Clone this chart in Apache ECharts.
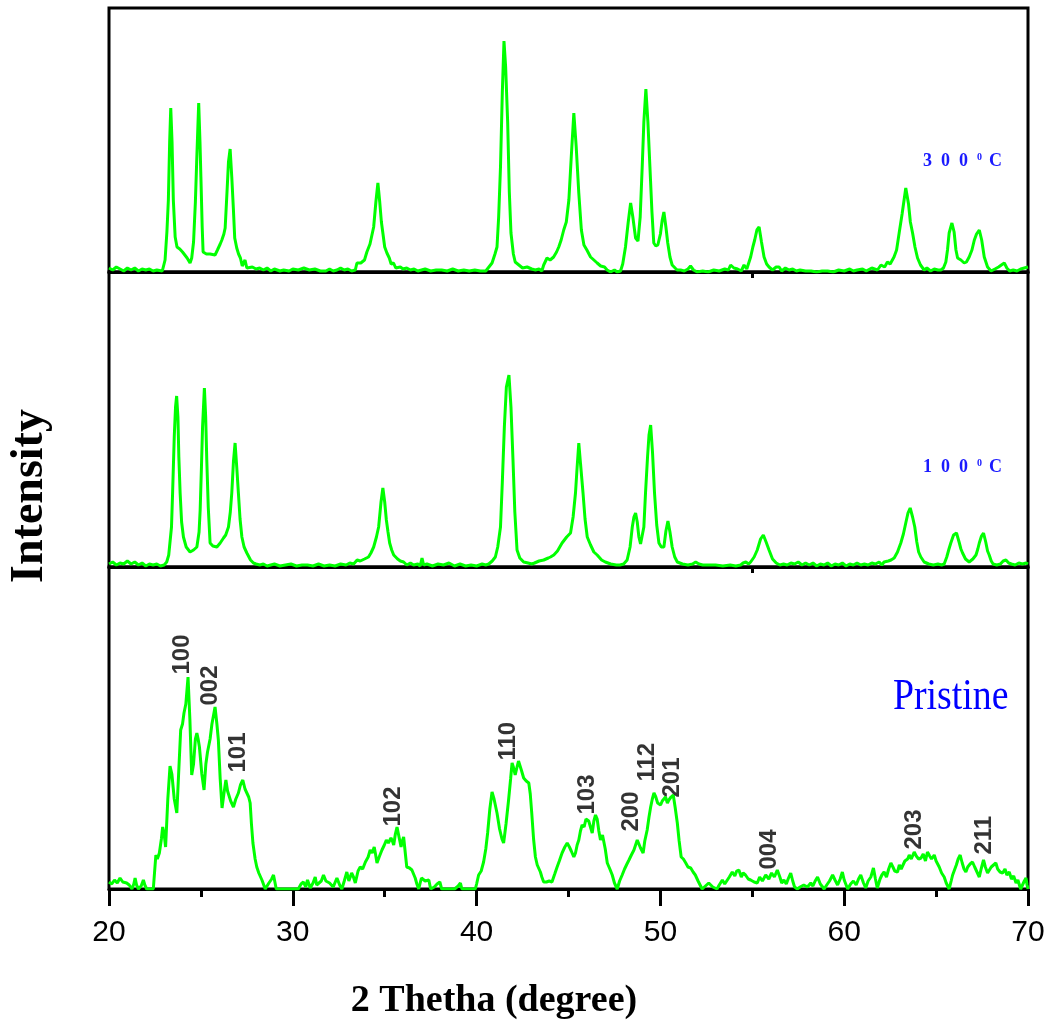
<!DOCTYPE html>
<html>
<head>
<meta charset="utf-8">
<title>XRD</title>
<script src="https://cdn.jsdelivr.net/npm/echarts@6/dist/echarts.min.js"></script>
<style>
  html, body { margin: 0; padding: 0; background: #fff; }
  #chart { width: 1053px; height: 1027px; }
</style>
</head>
<body>
<div id="chart"></div>
<script>
// 2theta (deg) vs intensity (a.u.)
const xrd300 = [
  [20.0,4],[20.2,2],[20.4,5],[20.6,3],[20.8,1],[21.0,4],[21.2,2],[21.4,4],[21.6,1],[21.8,3],[22.0,2],[22.2,3],[22.4,1],[22.6,2],[22.9,1],
  [23.05,12],[23.15,40],[23.23,72],[23.3,130],[23.36,164],[23.43,130],[23.5,72],[23.6,35],[23.7,25],[23.85,23],[24.0,20],[24.1,19],[24.25,14],[24.41,9],
  [24.5,14],[24.6,30],[24.7,70],[24.77,110],[24.88,169],[24.95,130],[25.0,95],[25.07,45],[25.12,20],[25.3,18],[25.5,18],[25.6,20],[25.77,17],[25.9,22],
  [26.05,28],[26.14,32],[26.25,38],[26.32,44],[26.42,80],[26.5,110],[26.59,123],[26.68,95],[26.77,62],[26.84,34],[26.95,24],[27.05,18],[27.15,14],
  [27.25,6],[27.3,4],[27.4,12],[27.5,4],[27.6,2],[27.8,5],[28.0,3],[28.2,4],[28.4,2],[28.6,4],[28.8,1],[29.0,3],[29.3,1],[29.5,2],[29.8,1],[30.0,3],
  [30.3,2],[30.6,4],[30.9,2],[31.2,3],[31.5,1],[31.8,1],[32.0,3],[32.2,1],[32.4,2],[32.6,4],[32.8,2],[33.0,3],[33.2,1],[33.4,2],[33.49,9],[33.7,9],
  [33.9,12],[34.03,20],[34.2,28],[34.4,45],[34.52,70],[34.63,89],[34.73,70],[34.82,50],[34.9,39],[35.0,25],[35.12,19],[35.25,14],[35.35,8],[35.48,9],
  [35.6,4],[35.7,6],[35.85,5],[36.0,3],[36.2,4],[36.4,2],[36.6,3],[36.8,1],[37.0,2],[37.2,3],[37.5,1],[37.8,2],[38.1,2],[38.4,1],[38.7,3],[39.0,1],
  [39.3,2],[39.6,1],[39.9,2],[40.2,1],[40.5,1],[40.57,3],[40.84,9],[41.0,18],[41.11,25],[41.2,55],[41.3,105],[41.4,180],[41.49,231],[41.58,205],
  [41.69,150],[41.78,80],[41.87,39],[42.0,18],[42.1,10],[42.3,7],[42.5,4],[42.75,5],[43.0,3],[43.2,2],[43.4,3],[43.55,1],[43.65,7],[43.83,14],
  [44.0,12],[44.19,15],[44.35,20],[44.47,25],[44.6,32],[44.74,42],[44.88,50],[45.02,72],[45.15,115],[45.29,159],[45.42,125],[45.56,79],[45.7,42],
  [45.84,27],[46.0,22],[46.2,15],[46.38,12],[46.56,9],[46.75,6],[46.96,5],[47.1,2],[47.29,0],[47.5,2],[47.65,0],[47.83,1],[47.95,8],[48.1,25],
  [48.25,50],[48.38,69],[48.5,55],[48.65,34],[48.78,31],[48.9,55],[49.01,105],[49.1,150],[49.21,183],[49.32,150],[49.43,105],[49.54,60],[49.64,29],
  [49.75,26],[49.86,27],[50.0,38],[50.1,52],[50.19,60],[50.3,45],[50.4,29],[50.52,15],[50.64,7],[50.8,4],[50.91,2],[51.1,2],[51.3,1],[51.5,3],
  [51.64,6],[51.8,2],[52.0,0],[52.3,1],[52.6,0],[52.9,2],[53.2,1],[53.5,3],[53.7,2],[53.82,7],[54.0,4],[54.2,3],[54.4,1],[54.55,7],[54.7,3],
  [54.91,15],[55.03,25],[55.13,32],[55.25,42],[55.37,45],[55.5,30],[55.64,15],[55.78,8],[55.91,5],[56.1,2],[56.3,5],[56.46,5],[56.6,1],[56.8,4],
  [57.0,2],[57.2,3],[57.4,1],[57.6,2],[57.9,1],[58.2,1],[58.5,0],[58.8,1],[59.1,1],[59.4,0],[59.7,2],[60.0,1],[60.3,3],[60.5,1],[60.7,2],[61.0,3],
  [61.2,1],[61.5,4],[61.81,2],[62.0,7],[62.2,5],[62.35,10],[62.5,8],[62.71,15],[62.85,22],[62.99,39],[63.15,58],[63.35,84],[63.5,68],[63.6,50],
  [63.72,39],[63.85,25],[63.99,14],[64.15,7],[64.35,2],[64.5,4],[64.7,1],[64.9,3],[65.1,2],[65.26,2],[65.4,4],[65.53,10],[65.62,22],[65.71,39],
  [65.86,49],[65.98,40],[66.08,22],[66.17,14],[66.35,12],[66.53,9],[66.65,10],[66.8,15],[66.95,22],[67.08,32],[67.2,38],[67.35,42],[67.48,32],
  [67.62,15],[67.8,5],[67.99,1],[68.2,3],[68.4,5],[68.55,7],[68.71,9],[68.85,4],[69.0,1],[69.2,2],[69.4,1],[69.6,3],[69.8,4],[70.0,5]
];

const xrd100 = [
  [20.0,3],[20.2,5],[20.4,2],[20.6,4],[20.8,3],[21.0,6],[21.2,3],[21.4,5],[21.6,2],[21.8,4],[22.0,1],[22.2,3],[22.4,2],[22.6,3],[22.8,1],[23.0,2],
  [23.14,5],[23.25,12],[23.32,14],[23.4,40],[23.46,74],[23.55,130],[23.62,160],[23.68,171],[23.75,150],[23.8,110],[23.87,74],[23.95,45],[24.05,30],
  [24.2,20],[24.41,15],[24.6,17],[24.78,20],[24.9,35],[24.96,57],[25.03,100],[25.09,140],[25.19,179],[25.26,150],[25.32,107],[25.4,60],[25.5,24],
  [25.65,21],[25.87,20],[26.05,24],[26.23,29],[26.35,32],[26.5,40],[26.6,55],[26.68,74],[26.77,105],[26.86,124],[26.95,100],[27.04,74],[27.13,48],
  [27.23,30],[27.35,20],[27.5,14],[27.7,7],[27.86,4],[28.0,3],[28.2,2],[28.4,3],[28.6,1],[28.8,2],[29.0,3],[29.3,1],[29.6,2],[29.9,3],[30.2,1],
  [30.5,2],[30.8,2],[31.1,1],[31.4,3],[31.7,1],[32.0,2],[32.3,1],[32.6,3],[32.9,2],[33.1,4],[33.31,3],[33.5,7],[33.67,6],[33.9,8],[34.12,10],
  [34.25,14],[34.4,20],[34.55,30],[34.67,40],[34.8,65],[34.9,79],[35.0,65],[35.09,47],[35.18,35],[35.27,24],[35.38,17],[35.49,12],[35.7,8],
  [35.85,6],[36.03,5],[36.2,2],[36.4,4],[36.57,2],[36.8,3],[36.93,1],[37.03,9],[37.12,2],[37.3,3],[37.6,1],[37.9,3],[38.2,2],[38.5,4],[38.8,1],
  [39.1,3],[39.4,1],[39.7,2],[40.0,1],[40.3,3],[40.5,2],[40.66,3],[40.85,6],[41.02,10],[41.15,20],[41.3,40],[41.4,85],[41.51,140],[41.62,180],
  [41.76,192],[41.87,160],[41.98,107],[42.08,55],[42.2,17],[42.35,9],[42.56,5],[42.8,4],[43.0,3],[43.15,4],[43.4,6],[43.65,7],[43.9,9],[44.02,10],
  [44.2,12],[44.4,16],[44.65,24],[44.9,30],[45.11,34],[45.25,50],[45.38,74],[45.47,100],[45.56,124],[45.66,102],[45.79,74],[45.9,48],[46.02,30],
  [46.2,22],[46.38,15],[46.56,12],[46.8,7],[47.0,5],[47.3,3],[47.6,2],[47.8,2],[48.0,3],[48.19,7],[48.35,20],[48.47,40],[48.56,50],[48.65,54],
  [48.74,45],[48.83,30],[48.92,23],[49.01,22],[49.1,40],[49.19,74],[49.3,110],[49.38,132],[49.47,142],[49.57,115],[49.68,74],[49.8,42],[49.92,24],
  [50.05,20],[50.19,20],[50.3,36],[50.41,46],[50.52,35],[50.64,20],[50.78,10],[50.92,5],[51.2,3],[51.5,2],[51.75,3],[51.92,5],[52.1,3],[52.3,2],
  [52.6,2],[53.0,2],[53.4,1],[53.8,2],[54.1,1],[54.37,2],[54.5,4],[54.65,5],[54.8,3],[54.91,5],[55.1,10],[55.27,17],[55.45,28],[55.6,32],[55.75,25],
  [55.91,17],[56.1,8],[56.3,4],[56.5,2],[56.7,3],[56.9,2],[57.1,4],[57.3,3],[57.5,5],[57.7,2],[57.9,4],[58.1,2],[58.3,4],[58.5,1],[58.7,3],[58.9,2],
  [59.1,4],[59.3,1],[59.5,3],[59.7,2],[59.9,4],[60.1,1],[60.3,3],[60.5,2],[60.7,4],[60.9,2],[61.1,3],[61.3,2],[61.5,4],[61.7,3],[61.9,5],[62.05,2],
  [62.17,5],[62.4,6],[62.55,7],[62.72,9],[62.9,15],[63.08,24],[63.22,33],[63.35,44],[63.47,54],[63.59,59],[63.72,50],[63.84,40],[63.95,25],
  [64.05,15],[64.17,10],[64.35,5],[64.6,3],[64.85,2],[65.1,3],[65.3,2],[65.44,3],[65.58,10],[65.7,18],[65.8,24],[65.95,32],[66.11,34],[66.25,25],
  [66.35,18],[66.44,14],[66.6,8],[66.8,5],[67.0,8],[67.17,12],[67.27,18],[67.35,24],[67.47,31],[67.58,34],[67.7,25],[67.8,16],[67.89,12],[68.0,6],
  [68.1,3],[68.3,2],[68.5,3],[68.65,6],[68.8,7],[68.95,4],[69.1,3],[69.3,2],[69.5,4],[69.7,3],[69.9,4],[70.0,3]
];

const xrdPristine = [
  [20.0,7],[20.15,5],[20.3,9],[20.45,6],[20.6,11],[20.75,7],[20.85,8],[20.96,6],[21.1,4],[21.25,0],[21.35,5],[21.42,11],[21.5,4],[21.6,0],[21.75,3],
  [21.87,9],[21.95,4],[22.05,0],[22.2,0],[22.41,0],[22.55,34],[22.63,30],[22.74,36],[22.85,50],[22.92,62],[23.0,55],[23.08,42],[23.2,90],[23.32,123],
  [23.42,115],[23.55,90],[23.69,76],[23.8,120],[23.9,159],[24.0,165],[24.08,176],[24.18,185],[24.3,212],[24.4,170],[24.5,114],[24.6,125],[24.7,150],
  [24.78,156],[24.85,150],[24.92,142],[25.05,115],[25.17,99],[25.27,125],[25.36,137],[25.5,150],[25.6,165],[25.77,182],[25.87,165],[25.95,149],
  [26.05,110],[26.15,81],[26.25,95],[26.36,109],[26.45,98],[26.5,96],[26.62,88],[26.77,82],[26.9,90],[27.04,96],[27.15,104],[27.28,109],[27.4,100],
  [27.5,96],[27.6,92],[27.68,86],[27.75,65],[27.83,46],[27.95,30],[28.04,22],[28.15,16],[28.32,9],[28.5,0],[28.7,6],[28.85,10],[28.95,14],[29.1,0],
  [29.4,0],[29.7,0],[30.0,0],[30.3,0],[30.45,5],[30.58,7],[30.7,2],[30.8,9],[30.95,1],[31.1,6],[31.22,12],[31.3,4],[31.4,2],[31.55,8],[31.67,14],
  [31.8,8],[32.0,6],[32.2,2],[32.4,11],[32.55,4],[32.67,0],[32.8,8],[32.94,17],[33.05,8],[33.2,16],[33.3,12],[33.4,6],[33.55,18],[33.67,22],
  [33.8,20],[33.95,27],[34.1,32],[34.21,39],[34.32,36],[34.43,42],[34.5,35],[34.58,26],[34.7,32],[34.85,39],[34.98,44],[35.09,49],[35.2,46],
  [35.34,51],[35.42,48],[35.49,44],[35.58,55],[35.67,62],[35.78,52],[35.89,42],[35.96,48],[36.03,52],[36.12,36],[36.2,22],[36.35,21],[36.48,19],
  [36.57,15],[36.66,11],[36.75,5],[36.85,0],[36.93,6],[37.0,11],[37.1,10],[37.2,8],[37.3,9],[37.4,9],[37.5,0],[37.7,2],[37.85,5],[38.0,7],[38.1,0],
  [38.4,0],[38.8,0],[39.0,3],[39.12,6],[39.2,0],[39.5,0],[39.93,0],[40.0,5],[40.11,14],[40.25,18],[40.38,27],[40.5,40],[40.6,56],[40.72,80],
  [40.84,97],[40.95,90],[41.11,76],[41.25,60],[41.38,50],[41.47,46],[41.6,65],[41.74,89],[41.85,110],[41.93,126],[42.0,122],[42.1,114],[42.2,122],
  [42.28,128],[42.35,130],[42.45,118],[42.56,111],[42.7,108],[42.84,106],[42.92,95],[43.0,76],[43.1,50],[43.2,32],[43.3,24],[43.47,17],[43.55,12],
  [43.65,7],[43.8,7],[43.95,8],[44.1,7],[44.25,15],[44.38,22],[44.5,28],[44.65,36],[44.8,42],[44.93,46],[45.05,42],[45.15,38],[45.29,32],[45.38,36],
  [45.47,44],[45.56,49],[45.65,58],[45.74,64],[45.85,62],[45.95,70],[46.02,72],[46.1,68],[46.2,66],[46.29,56],[46.38,68],[46.47,74],[46.56,70],
  [46.65,58],[46.74,49],[46.85,54],[46.92,56],[47.0,40],[47.11,26],[47.25,20],[47.38,14],[47.5,6],[47.65,0],[47.78,8],[47.92,14],[48.05,20],
  [48.18,25],[48.29,29],[48.42,34],[48.56,39],[48.65,44],[48.74,49],[48.83,45],[48.92,41],[49.06,36],[49.15,48],[49.28,59],[49.38,72],[49.47,82],
  [49.56,90],[49.65,96],[49.75,92],[49.85,86],[50.01,84],[50.1,88],[50.2,90],[50.28,92],[50.38,86],[50.46,89],[50.58,92],[50.7,94],[50.8,82],
  [50.92,66],[51.02,48],[51.13,32],[51.25,30],[51.38,26],[51.5,22],[51.65,21],[51.78,17],[51.9,14],[52.05,8],[52.27,0],[52.45,3],[52.63,6],
  [52.85,2],[53.08,0],[53.2,4],[53.37,9],[53.5,5],[53.6,7],[53.75,12],[53.91,17],[54.05,13],[54.15,18],[54.27,19],[54.4,12],[54.5,16],[54.63,14],
  [54.78,10],[54.91,9],[55.1,7],[55.27,6],[55.4,12],[55.55,8],[55.73,14],[55.9,10],[56.05,16],[56.2,12],[56.36,19],[56.5,12],[56.6,6],[56.72,9],
  [56.85,5],[56.95,10],[57.09,16],[57.2,8],[57.3,2],[57.45,0],[57.6,2],[57.8,4],[58.0,2],[58.18,6],[58.3,3],[58.42,8],[58.55,12],[58.7,5],
  [58.91,0],[59.05,4],[59.2,8],[59.37,14],[59.5,9],[59.64,4],[59.78,10],[59.9,17],[60.0,9],[60.19,0],[60.35,5],[60.5,8],[60.65,4],[60.78,10],
  [60.9,14],[61.05,6],[61.17,1],[61.3,8],[61.45,12],[61.59,21],[61.7,10],[61.8,1],[61.95,10],[62.05,14],[62.17,17],[62.3,12],[62.42,20],[62.54,26],
  [62.65,22],[62.75,18],[62.9,17],[63.0,24],[63.1,20],[63.17,22],[63.3,28],[63.45,30],[63.54,34],[63.65,30],[63.81,37],[63.92,33],[64.05,30],
  [64.18,31],[64.3,35],[64.42,28],[64.53,37],[64.65,33],[64.75,30],[64.9,34],[65.0,28],[65.1,26],[65.17,22],[65.3,16],[65.44,12],[65.55,6],
  [65.71,0],[65.82,8],[65.9,14],[66.0,19],[66.1,24],[66.2,30],[66.31,34],[66.42,26],[66.52,20],[66.62,17],[66.72,22],[66.85,25],[66.98,27],
  [67.1,22],[67.2,18],[67.35,12],[67.45,20],[67.58,29],[67.68,22],[67.8,16],[67.9,18],[68.0,22],[68.1,20],[68.25,26],[68.35,20],[68.48,17],
  [68.62,16],[68.75,20],[68.85,14],[68.98,17],[69.1,10],[69.22,13],[69.35,6],[69.45,9],[69.6,0],[69.7,4],[69.8,8],[69.89,11],[69.95,4],[70.0,0]
];

// hkl reflections of the pristine pattern: label and where its text starts
const hklNames = ['100', '002', '101', '102', '110', '103', '200', '112', '201', '004', '203', '211'];
const hklAngle = [24.03, 25.53, 27.08, 35.52, 41.73, 46.06, 48.43, 49.33, 50.69, 55.95, 63.84, 67.63];
const hklHeight = [214, 183, 116, 62, 128, 74, 57, 107, 91, 19, 39, 34];

const xTicks = [20, 30, 40, 50, 60, 70];
const panelMax = [264, 295, 322];

const GREEN = '#00ff00';
const BLUE = '#1a1aff';
const chart = echarts.init(document.getElementById('chart'));

const gridBox = { left: 109, right: 25, show: true, borderColor: '#000', borderWidth: 3, backgroundColor: 'transparent', outerBoundsMode: 'none' };

function innerX(idx) {
  return {
    type: 'value', gridIndex: idx, min: xTicks[0], max: xTicks[xTicks.length - 1],
    axisLine: { show: true, lineStyle: { color: '#000', width: 3 } },
    axisTick: { show: true, customValues: [55], length: 6, lineStyle: { color: '#000', width: 3 } },
    axisLabel: { show: false },
    splitLine: { show: false }
  };
}

function lineSeries(name, idx, data) {
  return {
    name: name, type: 'line', xAxisIndex: idx, yAxisIndex: idx, data: data,
    showSymbol: false, symbol: 'none', smooth: false,
    lineStyle: { color: GREEN, width: 3 }, z: 3
  };
}

// temperature tag: spaced bold digits plus a raised small "0" for degrees
function tempTag(text, y) {
  return {
    type: 'text', x: 923, y: y,
    style: {
      text: text, fill: BLUE, verticalAlign: 'middle',
      font: 'bold 18px "Liberation Serif", "Times New Roman", serif',
      rich: {
        d: { width: 18, fontSize: 18, fontWeight: 'bold', fontFamily: 'Liberation Serif', fill: BLUE },
        s: { width: 12, fontSize: 10, fontWeight: 'bold', fontFamily: 'Liberation Serif', fill: BLUE, verticalAlign: 'top' },
        c: { fontSize: 18, fontWeight: 'bold', fontFamily: 'Liberation Serif', fill: BLUE }
      }
    }
  };
}

chart.setOption({
  animation: false,
  backgroundColor: '#fff',
  grid: [
    Object.assign({ top: 8, height: 264 }, gridBox),
    Object.assign({ top: 272, height: 295 }, gridBox),
    Object.assign({ top: 567, height: 322 }, gridBox)
  ],
  xAxis: [
    innerX(0),
    innerX(1),
    {
      type: 'value', gridIndex: 2, min: 20, max: 70, interval: 10,
      axisLine: { show: true, lineStyle: { color: '#000', width: 3 } },
      axisTick: { show: true, length: 17, lineStyle: { color: '#000', width: 3 } },
      minorTick: { show: true, splitNumber: 2, length: 8, lineStyle: { color: '#000', width: 3 } },
      axisLabel: { show: true, color: '#000', fontSize: 30, fontFamily: 'Liberation Sans, Arial, sans-serif', margin: 29 },
      splitLine: { show: false }
    }
  ],
  yAxis: panelMax.map(function (m, i) {
    return { type: 'value', gridIndex: i, min: 0, max: m, show: false, splitLine: { show: false } };
  }),
  series: [
    lineSeries('300 C', 0, xrd300),
    lineSeries('100 C', 1, xrd100),
    lineSeries('Pristine', 2, xrdPristine),
    {
      type: 'scatter', xAxisIndex: 2, yAxisIndex: 2,
      symbol: 'circle', symbolSize: 1, itemStyle: { color: 'rgba(0,0,0,0)' },
      data: hklNames.map(function (n, i) { return { name: n, value: [hklAngle[i], hklHeight[i]] }; }),
      label: {
        show: true, formatter: '{b}', position: [0, 0], rotate: 90,
        align: 'left', verticalAlign: 'middle',
        color: '#000', textBorderWidth: 0, fontSize: 24, fontWeight: 'bold', fontFamily: 'Liberation Sans, Arial, sans-serif'
      },
      z: 4
    }
  ],
  graphic: [
    tempTag('{d|3}{d|0}{d|0}{s|0}{c|C}', 161),
    tempTag('{d|1}{d|0}{d|0}{s|0}{c|C}', 467),
    {
      type: 'text', x: 893, y: 697, scaleX: 0.84,
      style: {
        text: 'Pristine', fill: '#0000ff',
        font: '45px "Liberation Serif", "Times New Roman", serif',
        align: 'left', verticalAlign: 'middle'
      }
    },
    {
      type: 'text', x: 494, y: 1001,
      style: {
        text: '2 Thetha (degree)', fill: '#000',
        font: 'bold 38px "Liberation Serif", "Times New Roman", serif',
        align: 'center', verticalAlign: 'middle'
      }
    },
    {
      type: 'text', x: 30, y: 496, rotation: Math.PI / 2,
      style: {
        text: 'Intensity', fill: '#000',
        font: 'bold 46px "Liberation Serif", "Times New Roman", serif',
        align: 'center', verticalAlign: 'middle'
      }
    }
  ]
});
</script>
</body>
</html>
